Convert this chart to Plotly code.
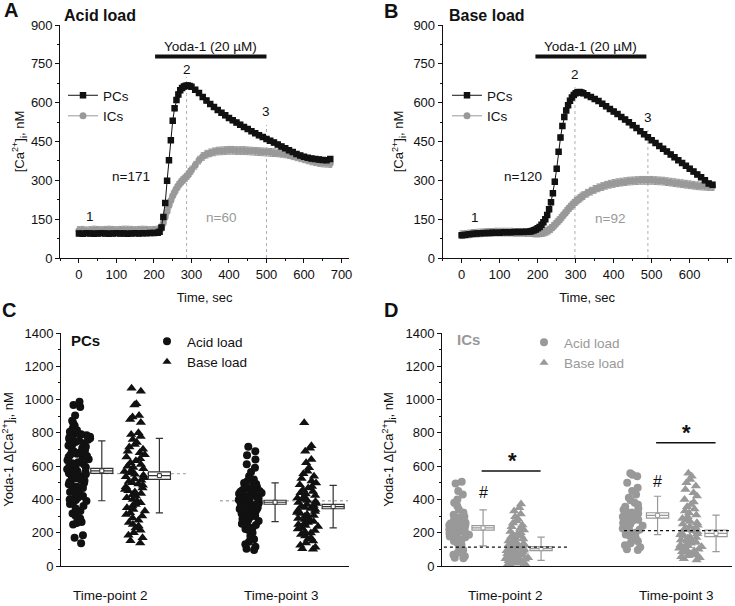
import plotly.graph_objects as go

# ======================= DATA =======================
# Panel A - acid load, time course (s) and mean [Ca2+]i (nM)
time_A = [0, 10, 20, 30, 40, 50, 60, 70, 80, 90, 100, 110, 120, 130, 140, 150, 160, 170, 180, 190, 200, 210,
          215, 220, 225, 230, 235, 240, 245, 250, 255, 260, 265, 270, 275, 280, 285, 290, 295, 300,
          310, 320, 330, 340, 350, 360, 370, 380, 390, 400, 410, 420, 430, 440, 450, 460, 470, 480, 490,
          500, 510, 520, 530, 540, 550, 560, 570, 580, 590, 600, 610, 620, 630, 640, 650, 660, 670]
pcs_A = [95, 94, 96, 95, 94, 95, 96, 95, 94, 95, 96, 95, 95, 94, 95, 96, 95, 96, 96, 97, 97, 98,
         101, 118, 158, 212, 298, 378, 455, 530, 578, 610, 632, 648, 657, 662, 665, 666, 664, 661,
         650, 637, 622, 608, 595, 583, 572, 561, 551, 541, 532, 523, 515, 506, 498, 490, 482, 474, 467,
         460, 453, 446, 438, 431, 424, 416, 409, 402, 396, 391, 387, 384, 382, 380, 379, 378, 382]
ics_A = [106, 107, 105, 106, 108, 107, 106, 107, 108, 107, 106, 107, 108, 108, 107, 106, 107, 108, 107, 106, 107, 108,
         110, 118, 135, 158, 180, 203, 222, 240, 255, 268, 280, 290, 298, 305, 312, 320, 330, 340,
         358, 378, 392, 401, 406, 410, 413, 414, 415, 416, 416, 415, 415, 415, 414, 413, 412, 411, 410,
         409, 408, 407, 406, 404, 402, 399, 395, 391, 387, 383, 379, 375, 372, 369, 367, 366, 365]

# Panel B - base load
time_B = [0, 10, 20, 30, 40, 50, 60, 70, 80, 90, 100, 110, 120, 130, 140, 150, 160, 170, 180,
          185, 190, 195, 200, 205, 210, 215, 220, 225, 230, 235, 240, 245, 250, 255, 260, 265, 270,
          275, 280, 285, 290, 295, 300, 305, 310, 315, 320,
          330, 340, 350, 360, 370, 380, 390, 400, 410, 420, 430, 440, 450, 460, 470, 480, 490, 500,
          510, 520, 530, 540, 550, 560, 570, 580, 590, 600, 610, 620, 630, 640, 650, 660]
pcs_B = [88, 90, 92, 94, 95, 96, 97, 97, 98, 98, 98, 99, 99, 99, 100, 100, 100, 101, 102,
         104, 107, 110, 115, 120, 128, 138, 150, 166, 188, 215, 250, 295, 345, 410, 465, 510, 545,
         570, 590, 607, 620, 630, 636, 640, 641, 639, 636,
         629, 622, 614, 606, 596, 586, 576, 566, 556, 545, 535, 524, 513, 502, 490, 478, 466, 455,
         444, 433, 422, 411, 400, 389, 378, 367, 356, 345, 334, 323, 312, 300, 288, 283]
ics_B = [90, 91, 93, 95, 96, 97, 98, 99, 99, 100, 100, 100, 100, 100, 99, 99, 99, 98, 98,
         98, 97, 97, 97, 97, 98, 99, 101, 104, 108, 114, 121, 128, 136, 144, 152, 161, 170,
         179, 188, 196, 204, 211, 218, 224, 230, 236, 241,
         250, 258, 265, 271, 276, 281, 285, 288, 291, 293, 295, 297, 298, 299, 300, 300, 300, 300,
         299, 298, 297, 295, 293, 291, 289, 287, 285, 283, 281, 279, 278, 277, 276, 276]
err_pcs = 9     # SEM, nM
err_ics = 15

n_labels_A = ["n=171", "n=60"]
n_labels_B = ["n=120", "n=92"]
yoda_label = "Yoda-1 (20 µM)"
yoda_A = [203, 500]        # s
yoda_B = [194, 486]
timepoints_A = [287, 500]  # time-points 2 and 3 (s)
timepoints_B = [298, 490]

# Panels C/D - Yoda-1 delta [Ca2+]i per cell (nM)
categories = ["Time-point 2", "Time-point 3"]
groups = ["Acid load", "Base load"]
pc_acid_tp2 = [987, 968, 955, 905, 872, 858, 842, 826, 815, 806, 798, 792, 786, 781, 776, 772, 768, 763, 758,
               752, 745, 738, 731, 724, 716, 708, 701, 694, 688, 681, 674, 668, 661, 655, 648, 642, 636, 630,
               624, 618, 612, 606, 600, 594, 588, 582, 576, 570, 564, 558, 552, 546, 540, 533, 526, 519, 512,
               505, 498, 491, 484, 476, 468, 460, 452, 444, 436, 428, 420, 412, 405, 400, 396, 390, 382, 372,
               360, 345, 330, 315, 300, 285, 272, 265, 258, 250, 185, 170, 136]
pc_base_tp2 = [1068, 1050, 975, 968, 905, 895, 880, 862, 800, 790, 778, 760, 742, 730, 715, 702, 690, 680, 668,
               655, 645, 632, 620, 610, 600, 592, 585, 576, 568, 560, 552, 545, 537, 530, 522, 515, 508, 500,
               492, 485, 476, 468, 460, 452, 444, 436, 428, 420, 410, 400, 390, 380, 370, 360, 350, 340, 330,
               320, 310, 300, 288, 275, 262, 250, 240, 228, 215, 200, 185, 170, 152, 138]
pc_acid_tp3 = [717, 690, 665, 640, 612, 590, 565, 540, 520, 507, 498, 492, 486, 480, 475, 470, 465, 460, 455,
               450, 446, 442, 438, 434, 430, 426, 422, 418, 414, 410, 406, 402, 398, 394, 390, 386, 382, 378,
               374, 370, 366, 362, 358, 354, 350, 346, 342, 338, 334, 330, 325, 320, 315, 310, 305, 300, 294,
               288, 282, 276, 270, 262, 254, 246, 238, 230, 222, 216, 200, 180, 160, 145, 130, 115, 104, 96]
pc_base_tp3 = [861, 722, 708, 690, 640, 620, 590, 570, 555, 540, 525, 510, 498, 488, 478, 468, 458, 448, 440,
               432, 424, 416, 408, 400, 394, 388, 382, 376, 370, 364, 358, 352, 346, 340, 334, 328, 322, 316,
               310, 304, 298, 292, 286, 280, 274, 268, 262, 256, 250, 244, 238, 230, 222, 214, 206, 198, 190,
               180, 170, 160, 150, 138, 125, 112, 104, 100]
ic_acid_tp2 = [506, 495, 450, 430, 400, 380, 360, 340, 322, 308, 298, 292, 286, 280, 274, 268, 262, 256, 250,
               245, 240, 236, 232, 228, 224, 220, 216, 212, 208, 204, 200, 196, 192, 188, 184, 178, 172, 165,
               158, 150, 140, 128, 112, 96, 80, 68, 58, 50, 46]
ic_base_tp2 = [372, 350, 330, 312, 296, 282, 270, 258, 246, 236, 226, 216, 208, 200, 192, 186, 180, 174, 168,
               162, 156, 150, 145, 140, 135, 130, 126, 122, 118, 114, 110, 106, 102, 98, 95, 92, 89, 86, 83,
               80, 77, 74, 71, 68, 65, 62, 59, 56, 53, 50, 47, 44, 41, 38, 35, 32, 29, 26, 23, 20, 16, 12, 8, 4, 0]
ic_acid_tp3 = [557, 548, 540, 500, 470, 450, 430, 410, 395, 380, 368, 356, 346, 338, 330, 322, 315, 308, 302,
               296, 290, 284, 278, 272, 266, 258, 250, 242, 234, 226, 218, 210, 200, 190, 180, 170, 160, 148,
               136, 124, 112, 100, 96]
ic_base_tp3 = [557, 540, 520, 500, 480, 460, 440, 420, 400, 385, 370, 356, 342, 330, 318, 306, 296, 286, 276,
               268, 260, 252, 245, 238, 231, 224, 218, 212, 206, 200, 194, 188, 182, 176, 171, 166, 161, 156,
               151, 146, 141, 136, 131, 126, 121, 116, 111, 106, 101, 96, 91, 86, 81, 76, 71, 66, 61, 56, 50, 44, 36]

# summary statistics (mean, SEM, SD) in order: acid TP2, base TP2, acid TP3, base TP3
pc_mean = [572, 543, 383, 357]
pc_sem = [15, 22, 12, 13]
pc_sd = [180, 224, 116, 128]
ic_mean = [229, 104, 304, 196]
ic_sem = [13, 12, 16, 20]
ic_sd = [108, 70, 115, 110]
pc_ref = [555, 392]   # dotted reference levels
ic_ref = [114, 212]
ic_sig_y = [571, 741]     # "*" bars
ic_hash_y = [443, 506]    # "#"

# ======================= STYLE / LAYOUT =======================
W, H = 735, 606
FONT = "Liberation Sans, Arial, sans-serif"
BLACK = "#111111"
GRAY = "#999999"
pt_pos = [0.72, 3.12, 7.9, 10.3]      # x position of each dot column
box_pos = [1.70, 4.10, 8.92, 11.34]   # x position of each summary box


def px(x):
    return x / W


def py(y):
    return 1 - y / H


fig = go.Figure()

# ---- A & B time courses ----
for (tt, pcs, ics, xa, ya, lg) in [(time_A, pcs_A, ics_A, "x", "y", "legend"),
                                   (time_B, pcs_B, ics_B, "x2", "y2", "legend2")]:
    fig.add_trace(go.Scatter(
        x=tt, y=ics, mode="lines+markers", name="ICs", legend=lg, legendrank=2,
        marker=dict(symbol="circle", size=7, color=GRAY), line=dict(color=GRAY, width=1),
        error_y=dict(type="constant", value=err_ics, color=GRAY, thickness=1, width=2),
        xaxis=xa, yaxis=ya, hoverinfo="skip"))
    fig.add_trace(go.Scatter(
        x=tt, y=pcs, mode="lines+markers", name="PCs", legend=lg, legendrank=1,
        marker=dict(symbol="square", size=6.5, color=BLACK), line=dict(color=BLACK, width=1),
        error_y=dict(type="constant", value=err_pcs, color=BLACK, thickness=1, width=2),
        xaxis=xa, yaxis=ya, hoverinfo="skip"))

# ---- C & D dot plots ----
panels_cd = [
    ("x3", "y3", [pc_acid_tp2, pc_base_tp2, pc_acid_tp3, pc_base_tp3], pc_mean, pc_sem, pc_sd,
     BLACK, "#333333", "legend3"),
    ("x4", "y4", [ic_acid_tp2, ic_base_tp2, ic_acid_tp3, ic_base_tp3], ic_mean, ic_sem, ic_sd,
     GRAY, GRAY, "legend4"),
]
symbols = ["circle", "triangle-up", "circle", "triangle-up"]
for (xa, ya, sets, mean, sem, sd, col, boxcol, lg) in panels_cd:
    for i, vals in enumerate(sets):
        fig.add_trace(go.Box(
            y=vals, x0=pt_pos[i], width=1.0, boxpoints="all", jitter=1, pointpos=0,
            marker=dict(symbol=symbols[i], size=8 if i % 2 == 0 else 9, color=col),
            line=dict(color="rgba(0,0,0,0)", width=0), fillcolor="rgba(0,0,0,0)",
            xaxis=xa, yaxis=ya, showlegend=False, hoverinfo="skip"))
        fig.add_trace(go.Box(
            x=[box_pos[i]], q1=[mean[i] - sem[i]], median=[mean[i]], q3=[mean[i] + sem[i]],
            lowerfence=[mean[i] - sd[i]], upperfence=[mean[i] + sd[i]],
            width=0.92, whiskerwidth=0.33, boxpoints=False,
            line=dict(color=boxcol, width=1.2), fillcolor="white",
            xaxis=xa, yaxis=ya, showlegend=False, hoverinfo="skip"))
    fig.add_trace(go.Scatter(
        x=box_pos, y=mean, mode="markers",
        marker=dict(symbol="square", size=4, color="white", line=dict(color=boxcol, width=1)),
        xaxis=xa, yaxis=ya, showlegend=False, hoverinfo="skip"))
    # legend-only entries
    for g, sym in zip(groups, ["circle", "triangle-up"]):
        fig.add_trace(go.Scatter(
            x=[None], y=[None], mode="markers", name=g, legend=lg,
            marker=dict(symbol=sym, size=8, color=col), xaxis=xa, yaxis=ya))

# ======================= SHAPES =======================
shapes = []
for (xa, ya, yoda, tps, tops) in [("x", "y", yoda_A, timepoints_A, [700, 514]),
                                   ("x2", "y2", yoda_B, timepoints_B, [668, 494])]:
    shapes.append(dict(type="line", xref=xa, yref=ya, x0=yoda[0], x1=yoda[1], y0=778, y1=778,
                       line=dict(color=BLACK, width=4)))
    for t, top in zip(tps, tops):
        shapes.append(dict(type="line", xref=xa, yref=ya, x0=t, x1=t, y0=0, y1=top, layer="below",
                           line=dict(color="#b0b0b0", width=1, dash="dot")))
# reference dotted lines in C / D
shapes.append(dict(type="line", xref="x3", yref="y3", x0=1.33, x1=5.25, y0=pc_ref[0], y1=pc_ref[0],
                   layer="below", line=dict(color="#b0b0b0", width=1.3, dash="dot")))
shapes.append(dict(type="line", xref="x3", yref="y3", x0=6.62, x1=11.96, y0=pc_ref[1], y1=pc_ref[1],
                   layer="below", line=dict(color="#b0b0b0", width=1.3, dash="dot")))
shapes.append(dict(type="line", xref="x4", yref="y4", x0=0.08, x1=5.25, y0=ic_ref[0], y1=ic_ref[0],
                   line=dict(color=BLACK, width=1.3, dash="dot")))
shapes.append(dict(type="line", xref="x4", yref="y4", x0=7.53, x1=12, y0=ic_ref[1], y1=ic_ref[1],
                   line=dict(color=BLACK, width=1.3, dash="dot")))
# significance bars
for k in range(2):
    a, b = box_pos[2 * k], box_pos[2 * k + 1]
    shapes.append(dict(type="line", xref="x4", yref="y4", x0=a - 0.06, x1=b - 0.02,
                       y0=ic_sig_y[k], y1=ic_sig_y[k], line=dict(color=BLACK, width=1.6)))

# ======================= ANNOTATIONS =======================
ann = []


def txt(text, x, y, xref="paper", yref="paper", size=13.5, color=BLACK, bold=False, xanchor="center",
        yanchor="middle"):
    ann.append(dict(text=f"<b>{text}</b>" if bold else text, x=x, y=y, xref=xref, yref=yref,
                    showarrow=False, xanchor=xanchor, yanchor=yanchor,
                    font=dict(size=size, color=color, family=FONT)))


# panel letters & titles
txt("A", px(11), py(10), size=20, bold=True)
txt("Acid load", px(62), py(15), size=16, bold=True, xanchor="left")
txt("B", px(391), py(11), size=20, bold=True)
txt("Base load", px(447), py(15), size=16, bold=True, xanchor="left")
txt("C", px(9), py(310), size=20, bold=True)
txt("D", px(391), py(310), size=20, bold=True)
txt("PCs", px(69), py(340), size=15, bold=True, xanchor="left")
txt("ICs", px(455), py(339), size=15, bold=True, color=GRAY, xanchor="left")

# A/B labels
for (xa, ya, yoda, tps, nl, pos) in [
        ("x", "y", yoda_A, timepoints_A, n_labels_A,
         dict(one=(29, 161), two=728, three=565, n1=(140, 316), n2=(380, 156))),
        ("x2", "y2", yoda_B, timepoints_B, n_labels_B,
         dict(one=(35, 156), two=710, three=543, n1=(162, 313), n2=(389, 152)))]:
    txt(yoda_label, (yoda[0] + yoda[1]) / 2, 816, xa, ya)
    txt("1", pos["one"][0], pos["one"][1], xa, ya)
    txt("2", tps[0], pos["two"], xa, ya)
    txt("3", tps[1], pos["three"], xa, ya)
    txt(nl[0], pos["n1"][0], pos["n1"][1], xa, ya)
    txt(nl[1], pos["n2"][0], pos["n2"][1], xa, ya, color=GRAY)

# category labels C / D
for xa, cpos in [("x3", [2.05, 9.2]), ("x4", [2.63, 9.71])]:
    for c, xp in zip(categories, cpos):
        txt(c, xp, py(595), xa, "paper", size=13.5)

# significance marks D
for k in range(2):
    a, b = box_pos[2 * k], box_pos[2 * k + 1]
    txt("*", (a + b) / 2, ic_sig_y[k] + 60, "x4", "y4", size=22, bold=True)
    txt("#", a, ic_hash_y[k], "x4", "y4", size=16)

# ======================= AXES =======================
axis_common = dict(showline=True, linecolor=BLACK, linewidth=1, ticks="outside", ticklen=4, tickwidth=1,
                   tickcolor=BLACK, showgrid=False, zeroline=False, automargin=False,
                   tickfont=dict(size=13, color=BLACK, family=FONT),
                   title_font=dict(size=13, color=BLACK, family=FONT))

yA = [py(258), py(25)]
yC = [py(566), py(333)]
time_ticks = [0, 100, 200, 300, 400, 500, 600, 700]
ca_ticks = [0, 150, 300, 450, 600, 750, 900]
d_ticks = [0, 200, 400, 600, 800, 1000, 1200, 1400]

fig.update_layout(
    xaxis=dict(axis_common, domain=[px(60.2), px(349)], range=[-50, 720], tickvals=time_ticks,
               minor=dict(dtick=50, tick0=0, ticks="outside", ticklen=2, tickcolor=BLACK),
               title=dict(text="Time, sec", standoff=12), anchor="y"),
    yaxis=dict(axis_common, domain=yA, range=[0, 900], tickvals=ca_ticks,
               minor=dict(dtick=75, tick0=0, ticks="outside", ticklen=2, tickcolor=BLACK),
               title=dict(text="[Ca<sup>2+</sup>]<sub>i</sub>, nM", standoff=3), anchor="x"),
    xaxis2=dict(axis_common, domain=[px(442.7), px(731.5)], range=[-50, 710], tickvals=time_ticks,
                minor=dict(dtick=50, tick0=0, ticks="outside", ticklen=2, tickcolor=BLACK),
                title=dict(text="Time, sec", standoff=12), anchor="y2"),
    yaxis2=dict(axis_common, domain=yA, range=[0, 900], tickvals=ca_ticks,
                minor=dict(dtick=75, tick0=0, ticks="outside", ticklen=2, tickcolor=BLACK),
                title=dict(text="[Ca<sup>2+</sup>]<sub>i</sub>, nM", standoff=6), anchor="x2"),
    xaxis3=dict(axis_common, domain=[px(61), px(349)], range=[0, 12], ticks="", showticklabels=False,
                anchor="y3"),
    yaxis3=dict(axis_common, domain=yC, range=[0, 1400], tickvals=d_ticks,
                minor=dict(dtick=100, tick0=0, ticks="outside", ticklen=2, tickcolor=BLACK),
                title=dict(text="Yoda-1 Δ[Ca<sup>2+</sup>]<sub>i</sub>, nM", standoff=8), anchor="x3"),
    xaxis4=dict(axis_common, domain=[px(442), px(732)], range=[0, 12], ticks="", showticklabels=False,
                anchor="y4"),
    yaxis4=dict(axis_common, domain=yC, range=[0, 1400], tickvals=d_ticks,
                minor=dict(dtick=100, tick0=0, ticks="outside", ticklen=2, tickcolor=BLACK),
                title=dict(text="Yoda-1 Δ[Ca<sup>2+</sup>]<sub>i</sub>, nM", standoff=8), anchor="x4"),
)

legend_common = dict(bgcolor="rgba(0,0,0,0)", borderwidth=0, xanchor="left", yanchor="top",
                     font=dict(size=13.5, color=BLACK, family=FONT), tracegroupgap=0, itemclick=False)
fig.update_layout(
    legend=dict(legend_common, x=px(63), y=py(80)),
    legend2=dict(legend_common, x=px(447), y=py(80)),
    legend3=dict(legend_common, x=px(147), y=py(326)),
    legend4=dict(legend_common, x=px(524), y=py(327), font=dict(size=13.5, color=GRAY, family=FONT)),
    width=W, height=H, margin=dict(l=0, r=0, t=0, b=0),
    paper_bgcolor="white", plot_bgcolor="white", boxmode="overlay",
    font=dict(family=FONT, color=BLACK, size=13),
    shapes=shapes, annotations=ann, showlegend=True,
)

fig.write_html("out.html", config={"displayModeBar": False},
               post_script="document.body.style.margin='0';document.body.style.overflow='hidden';")
